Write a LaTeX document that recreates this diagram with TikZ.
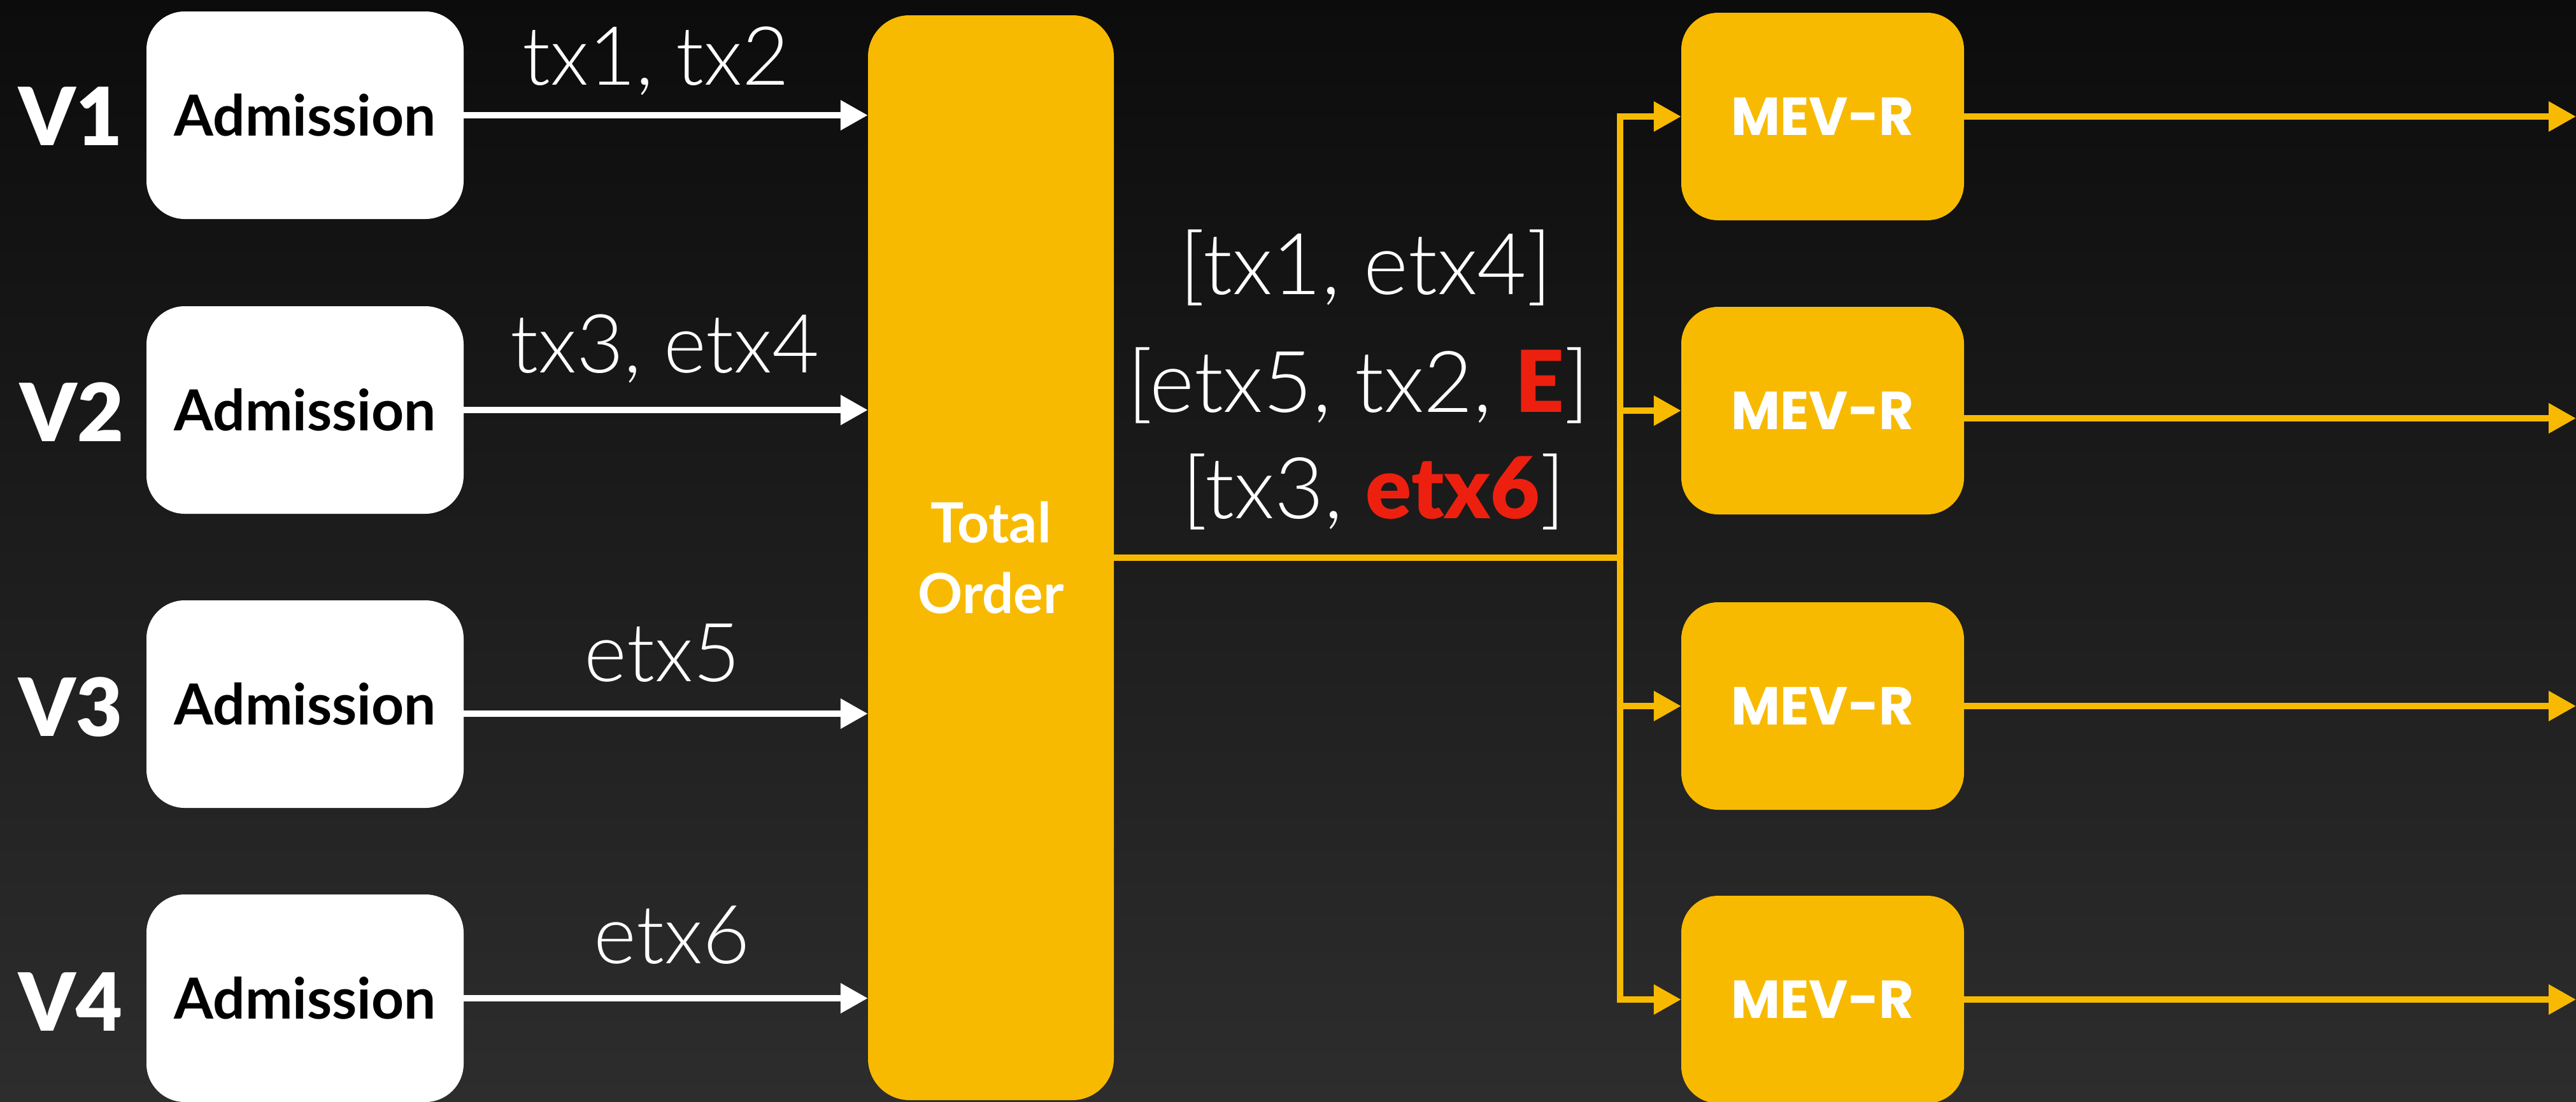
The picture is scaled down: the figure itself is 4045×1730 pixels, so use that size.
\documentclass[tikz,border=0pt]{standalone}
\usepackage{fontspec}
\usetikzlibrary{arrows.meta}
\newfontfamily\lightfont{Lato Light}
\newfontfamily\latofont{Lato}
\newfontfamily\latoblack{Lato Black}
\newfontfamily\popfont{Poppins}
\definecolor{gold}{RGB}{248,186,0}
\definecolor{hotred}{RGB}{237,32,16}
\definecolor{bgtop}{RGB}{12,12,12}
\definecolor{bgbot}{RGB}{45,45,45}
\newcommand{\hot}[1]{{\latoblack\color{hotred}#1}}

\begin{document}
\begin{tikzpicture}[x=1pt,y=-1pt,
  admbox/.style={fill=white, rounded corners=60pt, minimum width=498pt, minimum height=326pt,
    inner sep=0pt, text=black, font=\latofont\bfseries\fontsize{89}{89}\selectfont},
  orderbox/.style={fill=gold, rounded corners=65pt, minimum width=386pt, minimum height=1704pt,
    inner sep=0pt, align=center, text=white, font=\latofont\bfseries\fontsize{87}{111}\selectfont},
  mevbox/.style={fill=gold, rounded corners=58pt, minimum width=444pt, minimum height=326pt,
    inner sep=0pt, text=white, font=\popfont\bfseries\fontsize{84}{84}\selectfont},
  vlabel/.style={text=white, inner sep=0pt, font=\latoblack\fontsize{126}{126}\selectfont},
  txlabel/.style={text=white, inner sep=0pt, anchor=base, font=\lightfont\fontsize{128}{128}\selectfont},
  batch/.style={txlabel, font=\lightfont\fontsize{134}{134}\selectfont},
  feed/.style={draw=white, line width=10pt, -{Triangle[length=43pt,width=45pt]}},
  route/.style={draw=gold, line width=10pt},
  routearrow/.style={route, -{Triangle[length=43pt,width=45pt]}},
]
% canvas
\useasboundingbox (0,0) rectangle (4045,1730);
\shade[top color=bgtop, bottom color=bgbot] (0,0) rectangle (4045,1730);

% validators and their admission stages
\node[vlabel] (v1) at (111,183) {V1};
\node[vlabel] (v2) at (113,647) {V2};
\node[vlabel] (v3) at (111,1111) {V3};
\node[vlabel] (v4) at (111,1574) {V4};

\node[admbox] (adm1) at (479,181) {Admission};
\node[admbox] (adm2) at (479,644) {Admission};
\node[admbox] (adm3) at (479,1106) {Admission};
\node[admbox] (adm4) at (479,1568) {Admission};

% ordering stage
\node[orderbox] (order) at (1556,876) {Total\\Order};

\draw[feed] (adm1.east) -- (adm1.east -| order.west);
\draw[feed] (adm2.east) -- (adm2.east -| order.west);
\draw[feed] ([yshift=-15pt]adm3.east) -- ([yshift=-15pt]adm3.east -| order.west);
\draw[feed] (adm4.east) -- (adm4.east -| order.west);

\node[txlabel] (l1) at (1030,133) {tx1, tx2};
\node[txlabel] (l2) at (1044,585) {tx3, etx4};
\node[txlabel] (l3) at (1040,1070) {etx5};
\node[txlabel] (l4) at (1055,1513) {etx6};

% ordered batches
\node[batch] (b1) at (2145,462) {[tx1, etx4]};
\node[batch] (b2) at (2133,647) {[etx5, tx2, \hot{E}]};
\node[batch] (b3) at (2157,814) {[tx3, \hot{etx6}]};

% relays
\node[mevbox] (mev1) at (2862,183) {MEV-R};
\node[mevbox] (mev2) at (2862,645) {MEV-R};
\node[mevbox] (mev3) at (2862,1109) {MEV-R};
\node[mevbox] (mev4) at (2862,1570) {MEV-R};

\coordinate (bus) at (2544,876);
\draw[route] (order.east) -- (bus);
\draw[routearrow] (bus) |- (mev1.west);
\draw[routearrow] (bus) |- (mev4.west);
\draw[routearrow] (bus |- mev2) -- (mev2.west);
\draw[routearrow] (bus |- mev3) -- (mev3.west);

\coordinate (out1) at (4045,183);
\coordinate (out2) at (4045,657);
\coordinate (out3) at (4045,1109);
\coordinate (out4) at (4045,1570);
\draw[routearrow] (mev1.east) -- (out1);
\draw[routearrow] (mev2.east |- out2) -- (out2);
\draw[routearrow] (mev3.east) -- (out3);
\draw[routearrow] (mev4.east) -- (out4);
\end{tikzpicture}
\end{document}
